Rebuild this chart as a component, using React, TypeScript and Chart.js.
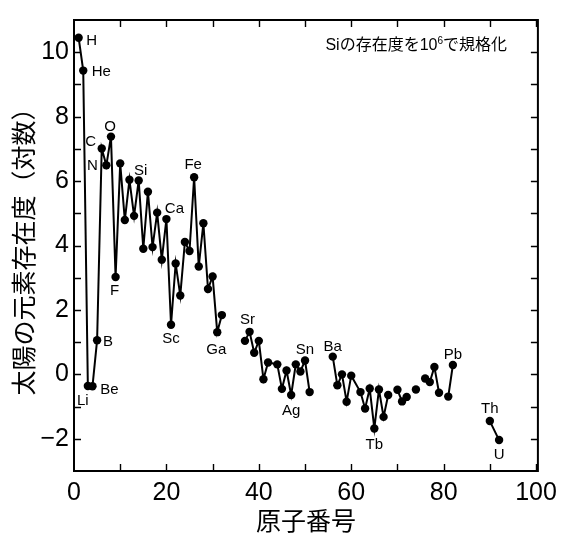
import { useEffect, useRef } from 'react';
import { Chart, registerables } from 'chart.js';

Chart.register(...registerables);

// Atomic numbers (null abundance = break in the line)
const atomicNumbers = [
  1, 2, 3, 4, 5, 6, 7, 8, 9, 10, 11, 12, 13, 14, 15, 16, 17, 18, 19, 20,
  21, 22, 23, 24, 25, 26, 27, 28, 29, 30, 31, 32, 33,
  37, 38, 39, 40, 41, 42, 44, 45, 46, 47, 48, 49, 50, 51, 52,
  56, 57, 58, 59, 60, 62, 63, 64, 65, 66, 67, 68, 69,
  70, 71, 72, 73, 74, 75, 76, 77, 78, 79, 80, 81, 82, 85, 90, 92,
];
// log10 solar abundance, Si = 10^6
const abundance: (number | null)[] = [
  10.45, 9.43, -0.36, -0.37, 1.06, 7.01, 6.49, 7.38, 3.02, 6.55, 4.79, 6.04, 4.92, 6.02, 3.9, 5.67, 3.95, 5.02, 3.56, 4.82,
  1.54, 3.44, 2.45, 4.11, 3.83, 6.12, 3.35, 4.69, 2.65, 3.04, 1.31, 1.84, null,
  1.04, 1.32, 0.67, 1.04, -0.15, 0.37, 0.31, -0.45, 0.12, -0.64, 0.31, 0.09, 0.43, -0.55, null,
  0.55, -0.34, 0.0, -0.85, -0.04, -0.55, -1.06, -0.44, -1.68, -0.47, -1.32, -0.64, null,
  -0.48, -0.84, -0.7, null, -0.47, null, -0.13, -0.24, 0.23, -0.57, null, -0.69, 0.29, null, -1.45, -2.04,
];

// Element labels shown on the chart
const labelNames = ['H', 'He', 'Li', 'Be', 'B', 'C', 'N', 'O', 'F', 'Si', 'Ca', 'Sc', 'Fe', 'Ga', 'Sr', 'Ag', 'Sn', 'Ba', 'Tb', 'Pb', 'Th', 'U'];
const labelZ = [1, 2, 3, 4, 5, 6, 7, 8, 9, 14, 20, 21, 26, 31, 38, 47, 50, 56, 65, 82, 90, 92];

const xTickValues = [0, 10, 20, 30, 40, 50, 60, 70, 80, 90, 100];
const yTickValues = [-3, -2, -1, 0, 1, 2, 3, 4, 5, 6, 7, 8, 9, 10, 11];

const xTitle = '原子番号';
const yTitle = '太陽の元素存在度（対数）';
const noteMain = 'Siの存在度を10';
const noteSup = '6';
const noteTail = 'で規格化';

const LATIN = '"Liberation Sans", Arial, "Noto Sans CJK JP", sans-serif';
const CJK = '"Noto Sans CJK JP", "Liberation Sans", sans-serif';

// pixel offsets of each label from its point
const labelOffsets: Record<string, [number, number]> = {
  H: [13, 3], He: [18, 1], Li: [-5, 15], Be: [17, 4], B: [11, 2], C: [-11, -7], N: [-14, 1],
  O: [-1, -10], F: [-1, 14], Si: [2, -10], Ca: [8, -10], Sc: [0, 14], Fe: [-1, -12], Ga: [-1, 18],
  Sr: [-2, -12], Ag: [0, 16], Sn: [0, -11], Ba: [0, -10], Tb: [0, 16], Pb: [0, -10], Th: [0, -12], U: [0, 15],
};

const decorPlugin = {
  id: 'decor',
  afterDraw(chart: any) {
    const { ctx, chartArea: a, scales } = chart;
    const xs = scales.x;
    const ys = scales.y;
    ctx.save();
    ctx.strokeStyle = '#000';
    ctx.lineWidth = 2;
    ctx.strokeRect(a.left, a.top, a.right - a.left, a.bottom - a.top);
    ctx.lineWidth = 1.4;
    const tl = 7;
    ctx.beginPath();
    yTickValues.forEach((v) => {
      const py = Math.round(ys.getPixelForValue(v)) + 0.5;
      if (py <= a.top + 1 || py >= a.bottom - 1) return;
      ctx.moveTo(a.left, py); ctx.lineTo(a.left + tl, py);
      ctx.moveTo(a.right, py); ctx.lineTo(a.right - tl, py);
    });
    xTickValues.forEach((v) => {
      const px = Math.round(xs.getPixelForValue(v)) + 0.5;
      if (px <= a.left + 1 || px >= a.right - 1) return;
      ctx.moveTo(px, a.bottom); ctx.lineTo(px, a.bottom - tl);
      ctx.moveTo(px, a.top); ctx.lineTo(px, a.top + tl);
    });
    ctx.stroke();

    // element labels
    ctx.fillStyle = '#000';
    ctx.font = '15px ' + LATIN;
    ctx.textAlign = 'center';
    ctx.textBaseline = 'middle';
    labelNames.forEach((name, i) => {
      const z = labelZ[i];
      const idx = atomicNumbers.indexOf(z);
      const val = abundance[idx];
      if (val === null || val === undefined) return;
      const [dx, dy] = labelOffsets[name] || [0, 0];
      ctx.fillText(name, xs.getPixelForValue(z) + dx, ys.getPixelForValue(val) + dy);
    });

    // note
    const mainFont = '16px ' + LATIN;
    const supFont = '10px ' + LATIN;
    ctx.textAlign = 'left';
    ctx.textBaseline = 'middle';
    ctx.font = mainFont;
    const w1 = ctx.measureText(noteMain).width;
    const w3 = ctx.measureText(noteTail).width;
    ctx.font = supFont;
    const w2 = ctx.measureText(noteSup).width;
    const right = 507;
    const cy = 46;
    let x = right - (w1 + w2 + w3);
    ctx.font = mainFont;
    ctx.fillText(noteMain, x, cy);
    x += w1;
    ctx.font = supFont;
    ctx.fillText(noteSup, x, cy - 5);
    x += w2;
    ctx.font = mainFont;
    ctx.fillText(noteTail, x, cy);
    ctx.restore();
  },
};

export default function App() {
  const ref = useRef<HTMLCanvasElement>(null);
  useEffect(() => {
    if (!ref.current) return;
    const data = atomicNumbers.map((z, i) => ({ x: z, y: abundance[i] }));
    const chart = new Chart(ref.current, {
      type: 'line',
      data: {
        datasets: [
          {
            data: data as any,
            borderColor: '#000',
            backgroundColor: '#000',
            borderWidth: 2,
            pointRadius: 4.2,
            pointBorderWidth: 0,
            pointBackgroundColor: '#000',
            spanGaps: false,
            tension: 0,
          },
        ],
      },
      options: {
        animation: false,
        responsive: false,
        devicePixelRatio: 1,
        layout: { padding: { top: 10, right: 24, left: 0, bottom: 0 } },
        plugins: { legend: { display: false }, tooltip: { enabled: false } },
        scales: {
          x: {
            type: 'linear',
            min: 0,
            max: 100.4,
            afterBuildTicks: (s: any) => { s.ticks = xTickValues.map((v) => ({ value: v })); },
            afterFit: (s: any) => { s.height = 67; },
            grid: { display: false, drawTicks: false },
            border: { display: false },
            ticks: {
              padding: 7,
              color: '#000',
              autoSkip: false,
              maxRotation: 0,
              font: { family: LATIN, size: 25 },
              callback: (v: any) => (v % 20 === 0 ? String(v) : ''),
            },
            title: {
              display: true,
              text: xTitle,
              color: '#000',
              font: { family: CJK, size: 25 },
              padding: { top: 0, bottom: 3 },
            },
          },
          y: {
            type: 'linear',
            min: -3,
            max: 11,
            afterBuildTicks: (s: any) => { s.ticks = yTickValues.map((v) => ({ value: v })); },
            afterFit: (s: any) => { s.width = 74; },
            grid: { display: false, drawTicks: false },
            border: { display: false },
            ticks: {
              padding: 5,
              color: '#000',
              autoSkip: false,
              font: { family: LATIN, size: 25 },
              callback: (v: any) => (v % 2 === 0 ? (v < 0 ? '−' + Math.abs(v) : String(v)) : ''),
            },
            title: {
              display: true,
              text: yTitle,
              color: '#000',
              font: { family: CJK, size: 25 },
              padding: { top: 8, bottom: 0 },
            },
          },
        },
      },
      plugins: [decorPlugin],
    });
    return () => chart.destroy();
  }, []);
  return (
    <div style={{ position: 'absolute', left: 0, top: 0, width: 564, height: 538, background: '#fff' }}>
      <canvas ref={ref} width={564} height={538} style={{ display: 'block' }} />
    </div>
  );
}
